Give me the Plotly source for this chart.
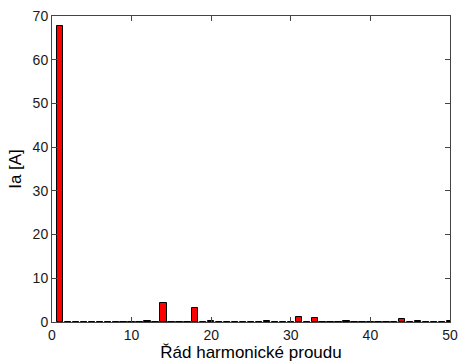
import plotly.graph_objects as go

# Harmonic current spectrum (orders 1..50)
orders = list(range(1, 51))
amplitudes = [0.0] * 50
nonzero = {1: 67.8, 12: 0.2, 14: 4.3, 18: 3.3, 20: 0.2, 27: 0.15,
           31: 1.2, 33: 1.0, 37: 0.15, 44: 0.7, 46: 0.15, 50: 0.2}
for k, v in nonzero.items():
    amplitudes[k - 1] = v

x_ticks = [0, 10, 20, 30, 40, 50]
y_ticks = [0, 10, 20, 30, 40, 50, 60, 70]

bar_width = 0.8

fig = go.Figure()
fig.add_trace(go.Bar(
    x=orders, y=amplitudes, width=bar_width,
    marker=dict(color="#ff0000", line=dict(color="#000000", width=1)),
    showlegend=False,
))

# bottom edges of the bars (visible for zero-valued orders)
edge_x, edge_y = [], []
for k in orders:
    edge_x += [k - bar_width / 2, k + bar_width / 2, None]
    edge_y += [0, 0, None]
fig.add_trace(go.Scatter(x=edge_x, y=edge_y, mode="lines",
                         line=dict(color="#000000", width=1),
                         showlegend=False, hoverinfo="skip"))

axis_common = dict(
    showline=True, linecolor="#444444", linewidth=1, mirror="ticks",
    ticks="inside", ticklen=5, tickcolor="#444444", showgrid=False,
    zeroline=False, tickfont=dict(family="Liberation Sans, Arial", size=14, color="#1a1a1a"),
)

fig.update_layout(
    width=465, height=364,
    margin=dict(l=52, r=7, t=16, b=40),
    paper_bgcolor="white", plot_bgcolor="white",
    bargap=0,
    xaxis=dict(range=[0, 50], tickvals=x_ticks, **axis_common,
               title=dict(text="Řád harmonické proudu", standoff=2,
                          font=dict(family="Liberation Sans, Arial", size=17, color="#000000"))),
    yaxis=dict(range=[0, 70], tickvals=y_ticks, **axis_common,
               title=dict(text="Ia [A]", standoff=6,
                          font=dict(family="Liberation Sans, Arial", size=17, color="#000000"))),
)

fig.write_html("out.html")
